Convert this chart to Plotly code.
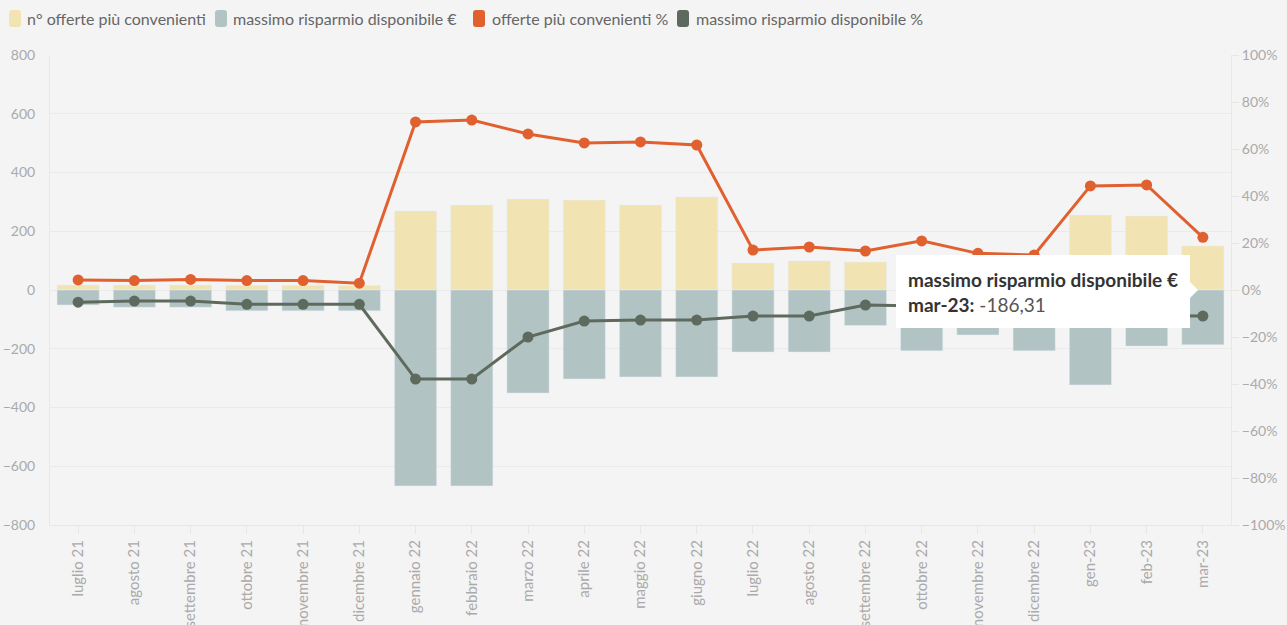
import plotly.graph_objects as go

months = ["luglio 21", "agosto 21", "settembre 21", "ottobre 21", "novembre 21", "dicembre 21",
          "gennaio 22", "febbraio 22", "marzo 22", "aprile 22", "maggio 22", "giugno 22",
          "luglio 22", "agosto 22", "settembre 22", "ottobre 22", "novembre 22", "dicembre 22",
          "gen-23", "feb-23", "mar-23"]
offerte_n = [17, 17, 17, 16, 16, 15, 269, 289, 310, 306, 289, 317, 92, 99, 95, 100, 105, 100, 255, 252, 150]
risparmio_eur = [-51, -59, -59, -71, -71, -71, -667, -667, -351, -303, -296, -296,
                 -211, -211, -121, -207, -153, -207, -323, -191, -186.31]
offerte_pct = [4.3, 4.0, 4.5, 4.0, 4.0, 2.9, 71.5, 72.3, 66.4, 62.6, 63.0, 61.7,
               17.0, 18.3, 16.6, 20.9, 15.6, 14.9, 44.3, 44.7, 22.4]
risparmio_pct = [-5.2, -4.7, -4.7, -6.1, -6.1, -6.1, -37.9, -37.9, -20.0, -13.2, -12.8, -12.8,
                 -11.1, -11.1, -6.4, -6.8, -8.5, -9.5, -10.5, -11.0, -11.1]

series_names = ["n° offerte più convenienti", "massimo risparmio disponibile €",
                "offerte più convenienti %", "massimo risparmio disponibile %"]
colors = ["#f2e4b2", "#b1c3c3", "#e0602f", "#5f6a5f"]

FONT = "Lato, Open Sans, sans-serif"
W, H = 1287, 625
PL, PR, PT, PB = 50, 1231, 55, 525  # plot area in window pixels
ML, MR, MT, MB = PL, W - PR, PT, H - PB
PW = PR - PL
PH = PB - PT


def px(x):
    return (x - PL) / PW


def py(y):
    return (PB - y) / PH


def rounded_rect(x0, y0, x1, y1, r):
    pts = [
        f"M {px(x0 + r)},{py(y0)}", f"L {px(x1 - r)},{py(y0)}", f"Q {px(x1)},{py(y0)} {px(x1)},{py(y0 + r)}",
        f"L {px(x1)},{py(y1 - r)}", f"Q {px(x1)},{py(y1)} {px(x1 - r)},{py(y1)}",
        f"L {px(x0 + r)},{py(y1)}", f"Q {px(x0)},{py(y1)} {px(x0)},{py(y1 - r)}",
        f"L {px(x0)},{py(y0 + r)}", f"Q {px(x0)},{py(y0)} {px(x0 + r)},{py(y0)}", "Z"]
    return " ".join(pts)


fig = go.Figure()
fig.add_trace(go.Bar(x=months, y=offerte_n, name=series_names[0], marker_color=colors[0],
                     width=0.75, showlegend=False))
fig.add_trace(go.Bar(x=months, y=risparmio_eur, name=series_names[1], marker_color=colors[1],
                     width=0.75, showlegend=False))
fig.add_trace(go.Scatter(x=months, y=offerte_pct, name=series_names[2], mode="lines+markers",
                         line=dict(color=colors[2], width=3), marker=dict(size=11, color=colors[2]),
                         yaxis="y2", showlegend=False))
fig.add_trace(go.Scatter(x=months, y=risparmio_pct, name=series_names[3], mode="lines+markers",
                         line=dict(color=colors[3], width=3), marker=dict(size=11, color=colors[3]),
                         yaxis="y2", showlegend=False))

shapes = []
annotations = []

# manual legend
legend_items = [(9, 25), (215, 231), (473, 490), (677, 694)]
for (sx, tx), name, col in zip(legend_items, series_names, colors):
    shapes.append(dict(type="path", xref="paper", yref="paper",
                       path=rounded_rect(sx, 10, sx + 12, 27, 3),
                       fillcolor=col, line=dict(width=0), layer="above"))
    annotations.append(dict(text=name, xref="paper", yref="paper", x=px(tx), y=py(19),
                            xanchor="left", yanchor="middle", showarrow=False,
                            font=dict(family=FONT, size=16, color="#666666")))

# tooltip
bl, br, bt, bb = 896, 1190, 255, 328
tip_x, tip_y = 1198, 290
path = (f"M {px(bl)},{py(bt)} L {px(br)},{py(bt)} L {px(br)},{py(282)} L {px(tip_x)},{py(tip_y)} "
        f"L {px(br)},{py(298)} L {px(br)},{py(bb)} L {px(bl)},{py(bb)} Z")
shapes.append(dict(type="path", xref="paper", yref="paper", path=path,
                   fillcolor="white", line=dict(width=0), layer="above"))
annotations.append(dict(
    text=f"<b>{series_names[1]}</b><br><b>{months[-1]}:</b> <span style='color:#555'>"
         + f"{risparmio_eur[-1]:.2f}".replace(".", ",") + "</span>",
    xref="paper", yref="paper", x=px(906), y=py(292), xanchor="left", yanchor="middle",
    align="left", showarrow=False, font=dict(family=FONT, size=19, color="#333333")))

fig.update_layout(
    width=W, height=H,
    margin=dict(l=ML, r=MR, t=MT, b=MB, autoexpand=False),
    paper_bgcolor="#f4f4f4", plot_bgcolor="#f4f4f4",
    barmode="overlay",
    showlegend=False,
    font=dict(family=FONT, color="#aaaaaa", size=14),
    xaxis=dict(tickangle=-90, tickfont=dict(size=15, color="#aaaaaa"), showgrid=False,
               ticks="outside", ticklen=8, tickcolor="#e6e6e6", automargin=False,
               showline=True, linecolor="#e8e8e8", linewidth=1, range=[-0.5, 20.5]),
    yaxis=dict(range=[-800, 800], dtick=200, gridcolor="#eaeaea", zeroline=True,
               zerolinecolor="#eaeaea", zerolinewidth=1, showline=True, linecolor="#e8e8e8",
               tickfont=dict(size=14, color="#aaaaaa"), ticklabelstandoff=11, automargin=False),
    yaxis2=dict(range=[-100, 100], dtick=20, ticksuffix="%", overlaying="y", side="right",
                showgrid=False, zeroline=False, showline=True, linecolor="#e8e8e8",
                ticks="outside", ticklen=7, tickcolor="#e6e6e6", automargin=False,
                tickfont=dict(size=14, color="#aaaaaa")),
    shapes=shapes,
    annotations=annotations,
)

fig.write_html("out.html", config={"displayModeBar": False},
               post_script="document.body.style.margin='0';document.body.style.background='#f4f4f4';")
